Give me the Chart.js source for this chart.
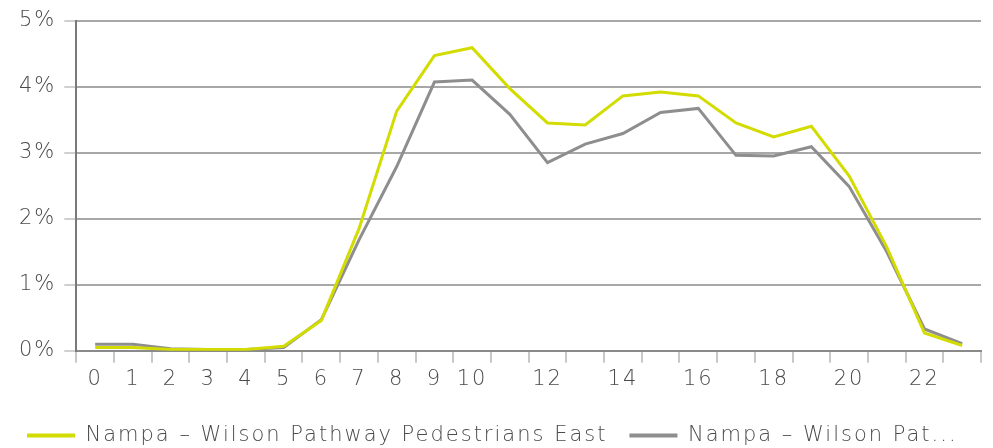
<!DOCTYPE html>
<html>
<head>
<meta charset="utf-8">
<script src="https://cdn.jsdelivr.net/npm/chart.js@4"></script>
<style>
  html, body { margin: 0; padding: 0; background: #fff; }
  #wrap { width: 993px; height: 448px; }
</style>
</head>
<body>
<div id="wrap"><canvas id="hourChart"></canvas></div>
<script>
// hour of day
const hours = ['0','1','2','3','4','5','6','7','8','9','10','11','12','13','14','15','16','17','18','19','20','21','22','23'];
// share of daily count, percent
const eastValues = [0.05, 0.05, 0.02, 0.02, 0.02, 0.07, 0.46, 1.85, 3.63, 4.47, 4.59, 3.97, 3.45, 3.42, 3.86, 3.92, 3.86, 3.45, 3.24, 3.40, 2.65, 1.57, 0.27, 0.08];
const westValues = [0.10, 0.10, 0.03, 0.02, 0.02, 0.05, 0.47, 1.68, 2.79, 4.07, 4.10, 3.58, 2.85, 3.13, 3.29, 3.61, 3.67, 2.96, 2.95, 3.09, 2.49, 1.50, 0.33, 0.11];
const seriesNames = ['Nampa – Wilson Pathway Pedestrians East', 'Nampa – Wilson Pathway Pedestrians West'];
const yTicks = [0, 1, 2, 3, 4, 5];
// hours that get a label on the axis
const shownHours = ['0','1','2','3','4','5','6','7','8','9','10','12','14','16','18','20','22'];

const FONT = { family: 'DejaVu Sans', size: 21, weight: 200 };
const TEXT = '#4a4a4a';

// the original text is spaced out a bit
const spacing = {
    id: 'spacing',
    beforeUpdate: (chart) => { chart.ctx.letterSpacing = '2px'; },
    beforeDraw: (chart) => { chart.ctx.letterSpacing = '2px'; }
};

new Chart(document.getElementById('hourChart'), {
    type: 'line',
    data: {
        labels: hours,
        datasets: [
            {
                label: seriesNames[0],
                data: eastValues,
                borderColor: '#d3dc00',
                backgroundColor: '#d3dc00',
                borderWidth: 3,
                pointRadius: 0,
                tension: 0
            },
            {
                label: seriesNames[1],
                data: westValues,
                borderColor: '#8e8e8e',
                backgroundColor: '#8e8e8e',
                borderWidth: 3,
                pointRadius: 0,
                tension: 0
            }
        ]
    },
    options: {
        responsive: true,
        maintainAspectRatio: false,
        animation: false,
        layout: { padding: { left: 5, right: 12, top: 7, bottom: -8 } },
        plugins: {
            tooltip: { enabled: false },
            legend: {
                position: 'bottom',
                align: 'start',
                labels: {
                    font: FONT,
                    color: TEXT,
                    boxWidth: 48,
                    boxHeight: 4,
                    padding: 22,
                    generateLabels: (chart) => {
                        const base = Chart.defaults.plugins.legend.labels.generateLabels(chart);
                        return base.map((item, i) => {
                            if (i === 1) item.text = item.text.slice(0, 18) + '...';
                            item.lineWidth = 0;
                            return item;
                        });
                    }
                }
            }
        },
        scales: {
            x: {
                offset: true,
                afterFit: (axis) => { axis.height += 7; },
                grid: {
                    offset: true,
                    drawOnChartArea: false,
                    drawTicks: true,
                    tickLength: 12,
                    color: '#c8c8c8',
                    lineWidth: 2
                },
                border: { color: '#8a8a8a', width: 2 },
                ticks: {
                    autoSkip: false,
                    maxRotation: 0,
                    padding: 4,
                    font: FONT,
                    color: TEXT,
                    callback: (v, i) => shownHours.includes(hours[i]) ? hours[i] : ''
                }
            },
            y: {
                min: yTicks[0],
                max: yTicks[yTicks.length - 1],
                afterBuildTicks: (axis) => { axis.ticks = yTicks.map(v => ({ value: v })); },
                afterFit: (axis) => { axis.width += 6; },
                grid: {
                    color: '#a8a8a8',
                    lineWidth: 2,
                    tickLength: 12,
                    tickColor: '#d0d0d0'
                },
                border: { color: '#7a7a7a', width: 2 },
                ticks: {
                    padding: 8,
                    font: FONT,
                    color: TEXT,
                    callback: (v) => v + '%'
                }
            }
        }
    },
    plugins: [spacing]
});
</script>
</body>
</html>
